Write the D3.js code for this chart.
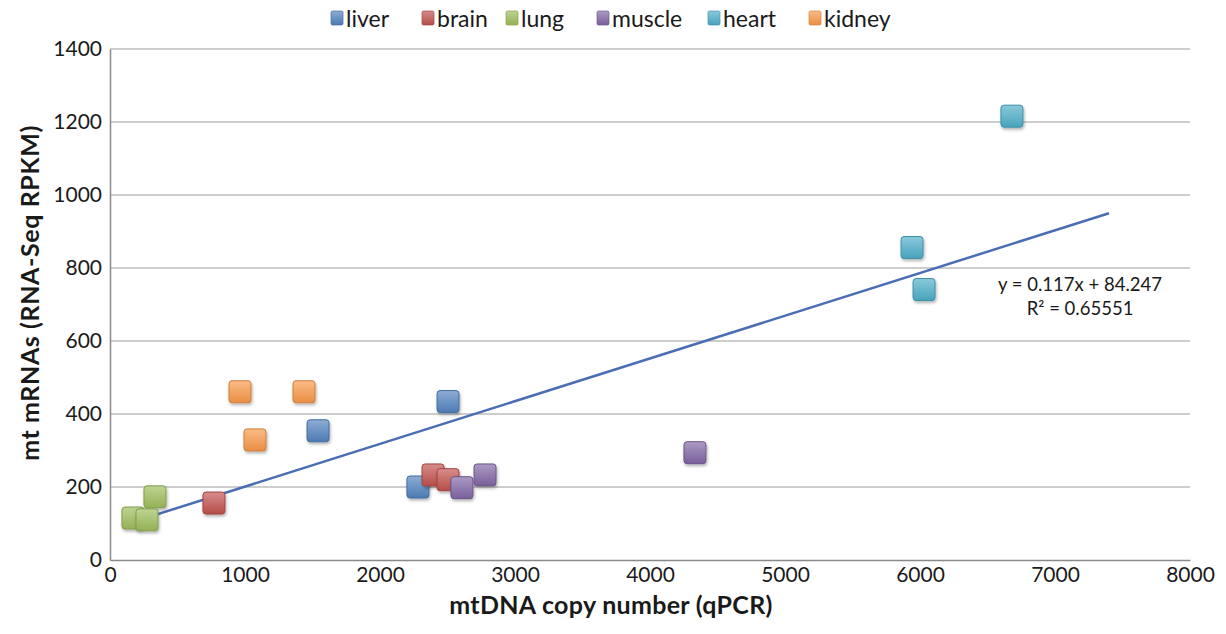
<!DOCTYPE html>
<html>
<head>
<meta charset="utf-8">
<title>mtDNA vs mt mRNAs</title>
<script src="https://cdn.jsdelivr.net/npm/d3@7"></script>
<style>
  body { margin: 0; background: #fff; }
  svg text { font-family: Lato, "Open Sans", sans-serif; fill: #1a1a1a; }
  .grid line { stroke: #bdbdbd; stroke-width: 1.5; }
  .axis path, .axis line { stroke: #8a8a8a; stroke-width: 1.5; }
  .axis text { font-size: 21px; }
  .title { font-weight: bold; font-size: 25px; }
  .legend text { font-size: 23px; }
  .eq { font-size: 18.5px; }
</style>
</head>
<body>
<script>
// tissues and their colours
var tissues = ["liver", "brain", "lung", "muscle", "heart", "kidney"];
var tissueColors = ["#4f81bd", "#c0504d", "#9bbb59", "#8064a2", "#4bacc6", "#f79646"];

// mtDNA copy number (qPCR) / mt mRNAs (RPKM)
var liverX  = [1541, 2504, 2281];
var liverY  = [354, 434, 200];
var brainX  = [770, 2393, 2504];
var brainY  = [156, 233, 220];
var lungX   = [170, 333, 274];
var lungY   = [115, 173, 110];
var muscleX = [2607, 2778, 4333];
var muscleY = [198, 233, 294];
var heartX  = [6681, 5941, 6030];
var heartY  = [1216, 856, 741];
var kidneyX = [963, 1437, 1074];
var kidneyY = [461, 461, 329];

// linear trend line
var trendSlope = 0.117;
var trendIntercept = 84.247;
var trendRange = [150, 7400];
var trendLabel = ["y = 0.117x + 84.247", "R² = 0.65551"];

var xTicks = [0, 1000, 2000, 3000, 4000, 5000, 6000, 7000, 8000];
var yTicks = [0, 200, 400, 600, 800, 1000, 1200, 1400];

var width = 1226, height = 634;
var margin = {top: 49, right: 36, bottom: 74, left: 110};

var series = [
  {name: "liver", x: liverX, y: liverY},
  {name: "brain", x: brainX, y: brainY},
  {name: "lung", x: lungX, y: lungY},
  {name: "muscle", x: muscleX, y: muscleY},
  {name: "heart", x: heartX, y: heartY},
  {name: "kidney", x: kidneyX, y: kidneyY}
];

var color = d3.scaleOrdinal().domain(tissues).range(tissueColors);

var svg = d3.select("body").append("svg")
  .attr("width", width).attr("height", height);

var defs = svg.append("defs");
tissues.forEach(function(t) {
  var c = d3.color(color(t));
  var g = defs.append("linearGradient").attr("id", "grad-" + t)
    .attr("x1", 0).attr("y1", 0).attr("x2", 0).attr("y2", 1);
  g.append("stop").attr("offset", "0%").attr("stop-color", d3.interpolateRgb(c, "#fff")(0.35));
  g.append("stop").attr("offset", "100%").attr("stop-color", c.darker(0.15));
});
var shadow = defs.append("filter").attr("id", "shadow")
  .attr("x", "-30%").attr("y", "-30%").attr("width", "170%").attr("height", "170%");
shadow.append("feDropShadow").attr("dx", 1).attr("dy", 2).attr("stdDeviation", 1.6)
  .attr("flood-color", "#000").attr("flood-opacity", 0.3);

var x = d3.scaleLinear().domain([0, 8000]).range([margin.left, width - margin.right]);
var y = d3.scaleLinear().domain([0, 1400]).range([height - margin.bottom, margin.top]);

// gridlines
svg.append("g").attr("class", "grid")
  .selectAll("line").data(yTicks.slice(1)).enter().append("line")
  .attr("x1", x(0)).attr("x2", x(8000))
  .attr("y1", function(d) { return y(d); }).attr("y2", function(d) { return y(d); });

svg.append("g").attr("class", "axis")
  .attr("transform", "translate(0," + y(0) + ")")
  .call(d3.axisBottom(x).tickValues(xTicks).tickSize(0).tickPadding(7).tickFormat(d3.format("d")));

svg.append("g").attr("class", "axis")
  .attr("transform", "translate(" + x(0) + ",0)")
  .call(d3.axisLeft(y).tickValues(yTicks).tickSize(0).tickPadding(8).tickFormat(d3.format("d")));

// trend line
svg.append("line")
  .attr("x1", x(trendRange[0])).attr("y1", y(trendSlope * trendRange[0] + trendIntercept))
  .attr("x2", x(trendRange[1])).attr("y2", y(trendSlope * trendRange[1] + trendIntercept))
  .attr("stroke", "#4a6db5").attr("stroke-width", 2.5);

// markers
var size = 22;
series.forEach(function(s) {
  svg.append("g").selectAll("rect").data(s.x).enter().append("rect")
    .attr("x", function(d) { return x(d) - size / 2; })
    .attr("y", function(d, i) { return y(s.y[i]) - size / 2; })
    .attr("width", size).attr("height", size).attr("rx", 3)
    .attr("fill", "url(#grad-" + s.name + ")")
    .attr("stroke", d3.color(color(s.name)).darker(0.5))
    .attr("stroke-width", 1)
    .attr("filter", "url(#shadow)");
});

// equation label
svg.append("g").selectAll("text").data(trendLabel).enter().append("text")
  .attr("class", "eq")
  .attr("x", 1080).attr("y", function(d, i) { return 291 + i * 24; })
  .attr("text-anchor", "middle")
  .text(function(d) { return d; });

// axis titles
svg.append("text").attr("class", "title")
  .attr("x", 611).attr("y", 614).attr("text-anchor", "middle")
  .style("letter-spacing", "0.3px")
  .text("mtDNA copy number (qPCR)");
svg.append("text").attr("class", "title")
  .attr("transform", "translate(39,293) rotate(-90)")
  .attr("text-anchor", "middle")
  .style("letter-spacing", "0.6px")
  .text("mt mRNAs (RNA-Seq RPKM)");

// legend
var legendX = [346, 437, 521, 612, 723, 824];
var legend = svg.append("g").attr("class", "legend");
tissues.forEach(function(t, i) {
  legend.append("rect")
    .attr("x", legendX[i] - 15).attr("y", 11).attr("width", 12).attr("height", 14).attr("rx", 1.5)
    .attr("fill", "url(#grad-" + t + ")")
    .attr("stroke", d3.color(color(t)).darker(0.4)).attr("stroke-width", 0.7);
  legend.append("text")
    .attr("x", legendX[i]).attr("y", 27)
    .text(t);
});
</script>
</body>
</html>
